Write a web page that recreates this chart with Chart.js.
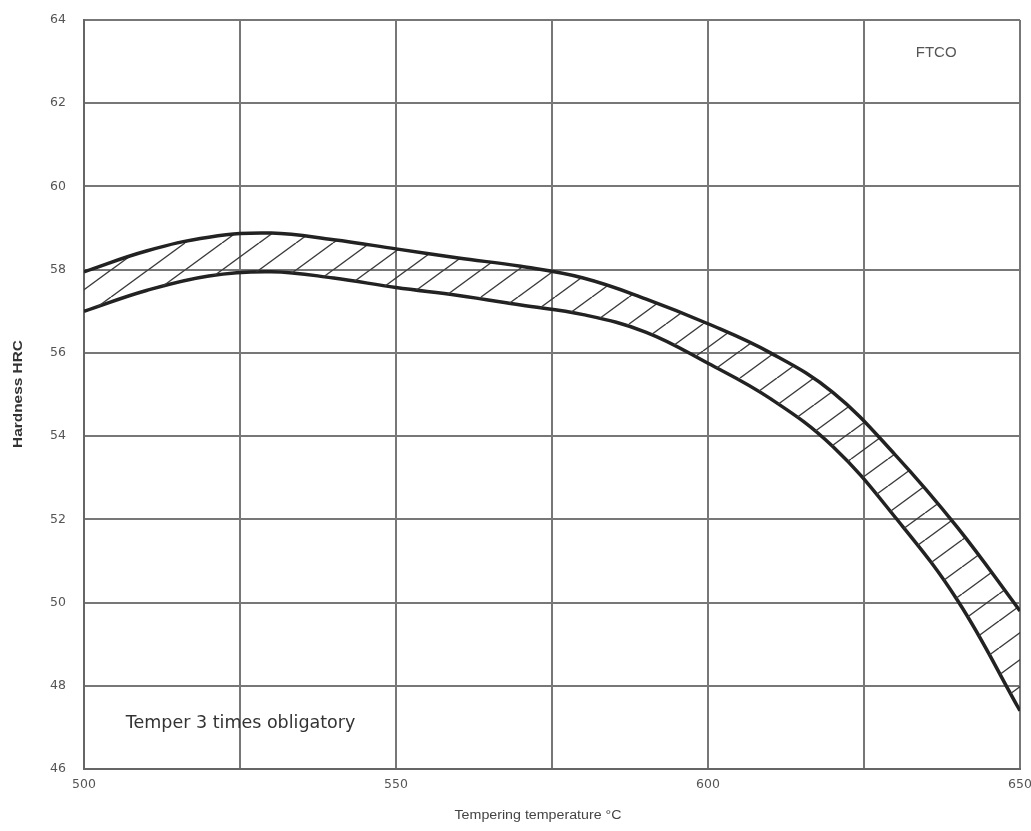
<!DOCTYPE html>
<html>
<head>
<meta charset="utf-8">
<script src="https://cdn.jsdelivr.net/npm/chart.js@4.4.1/dist/chart.umd.min.js"></script>
<style>
html,body{margin:0;padding:0;background:#fff;}
#wrap{width:1031px;height:831px;}
</style>
</head>
<body>
<div id="wrap"><canvas id="c" width="1031" height="831"></canvas></div>
<script>
const temperatures = [500, 510, 520, 530, 540, 550, 560, 570, 580, 590, 600, 610, 620, 630, 640, 650];
const upperHRC     = [57.95, 58.45, 58.78, 58.88, 58.72, 58.5, 58.28, 58.08, 57.8, 57.3, 56.7, 56.0, 55.05, 53.55, 51.8, 49.8];
const lowerHRC     = [57.0, 57.5, 57.85, 57.95, 57.8, 57.57, 57.38, 57.15, 56.92, 56.5, 55.75, 54.9, 53.75, 52.05, 50.05, 47.4];
const xTickLabels  = [500, 550, 600, 650];
const yTicks       = [46, 48, 50, 52, 54, 56, 58, 60, 62, 64];
const seriesNames  = ['Upper limit', 'Lower limit'];
const xTitle = 'Tempering temperature °C';
const yTitle = 'Hardness HRC';

function hatch(){
  const W = 37, H = 27;
  const p = document.createElement('canvas');
  p.width = W; p.height = H;
  const g = p.getContext('2d');
  g.strokeStyle = '#3a3a3a';
  g.lineWidth = 1.4;
  for (const dx of [-W, 0, W]) {
    g.beginPath();
    g.moveTo(dx, H);
    g.lineTo(dx + W, 0);
    g.stroke();
  }
  return g.createPattern(p, 'repeat');
}

function fitText(ctx, text, cx, cy, width, angle){
  ctx.save();
  ctx.translate(cx, cy);
  ctx.rotate(angle);
  const w = ctx.measureText(text).width;
  ctx.scale(width / w, 1);
  ctx.textAlign = 'center';
  ctx.textBaseline = 'middle';
  ctx.fillText(text, 0, 0);
  ctx.restore();
}

const annotations = {
  id: 'annotations',
  afterDraw(chart){
    const {ctx, scales:{x, y}} = chart;
    ctx.save();
    ctx.fillStyle = '#555';
    ctx.font = '15px "Liberation Sans", Arial, sans-serif';
    ctx.textAlign = 'left';
    ctx.textBaseline = 'middle';
    ctx.fillText('FTCO', x.getPixelForValue(633.3), y.getPixelForValue(63.2));
    ctx.fillStyle = '#333';
    ctx.font = '17.5px "DejaVu Sans", sans-serif';
    ctx.fillText('Temper 3 times obligatory', x.getPixelForValue(506.7), y.getPixelForValue(47.1));
    // axis titles
    ctx.fillStyle = '#444';
    ctx.font = '12px "Liberation Sans", Arial, sans-serif';
    fitText(ctx, xTitle, 538, 816, 167, 0);
    ctx.fillStyle = '#333';
    ctx.font = 'bold 12px "Liberation Sans", Arial, sans-serif';
    fitText(ctx, yTitle, 19, 394, 108, -Math.PI / 2);
    ctx.restore();
  }
};

function noPad(s){ s.paddingTop = 0; s.paddingBottom = 0; s.paddingLeft = 0; s.paddingRight = 0; }

new Chart(document.getElementById('c'), {
  type: 'line',
  data: {
    labels: temperatures,
    datasets: [
      {
        label: seriesNames[0],
        data: temperatures.map((t, i) => ({x: t, y: upperHRC[i]})),
        borderColor: '#222',
        borderWidth: 3.5,
        pointRadius: 0,
        tension: 0.4,
        fill: '+1',
        backgroundColor: hatch()
      },
      {
        label: seriesNames[1],
        data: temperatures.map((t, i) => ({x: t, y: lowerHRC[i]})),
        borderColor: '#222',
        borderWidth: 3.5,
        pointRadius: 0,
        tension: 0.4,
        fill: false
      }
    ]
  },
  options: {
    responsive: false,
    animation: false,
    devicePixelRatio: 1,
    layout: {padding: {top: 20, right: 11, left: 0, bottom: 0}},
    plugins: {legend: {display: false}, tooltip: {enabled: false}},
    scales: {
      x: {
        type: 'linear',
        min: 500, max: 650,
        ticks: {
          stepSize: 25,
          color: '#555',
          font: {size: 12.5, family: '"DejaVu Sans", sans-serif'},
          padding: 8,
          maxRotation: 0,
          callback: v => xTickLabels.includes(v) ? String(v) : ''
        },
        grid: {color: '#777', lineWidth: 2, drawTicks: false},
        border: {color: '#666', width: 2},
        title: {display: false},
        afterFit(s){ s.height = 62; noPad(s); }
      },
      y: {
        type: 'linear',
        min: 46, max: 64,
        afterBuildTicks(s){ s.ticks = yTicks.map(v => ({value: v})); },
        ticks: {
          color: '#555',
          font: {size: 12.5, family: '"DejaVu Sans", sans-serif'},
          padding: 18
        },
        grid: {color: '#777', lineWidth: 2, drawTicks: false},
        border: {color: '#666', width: 2},
        title: {display: false},
        afterFit(s){ s.width = 84; noPad(s); }
      }
    }
  },
  plugins: [annotations]
});
</script>
</body>
</html>
